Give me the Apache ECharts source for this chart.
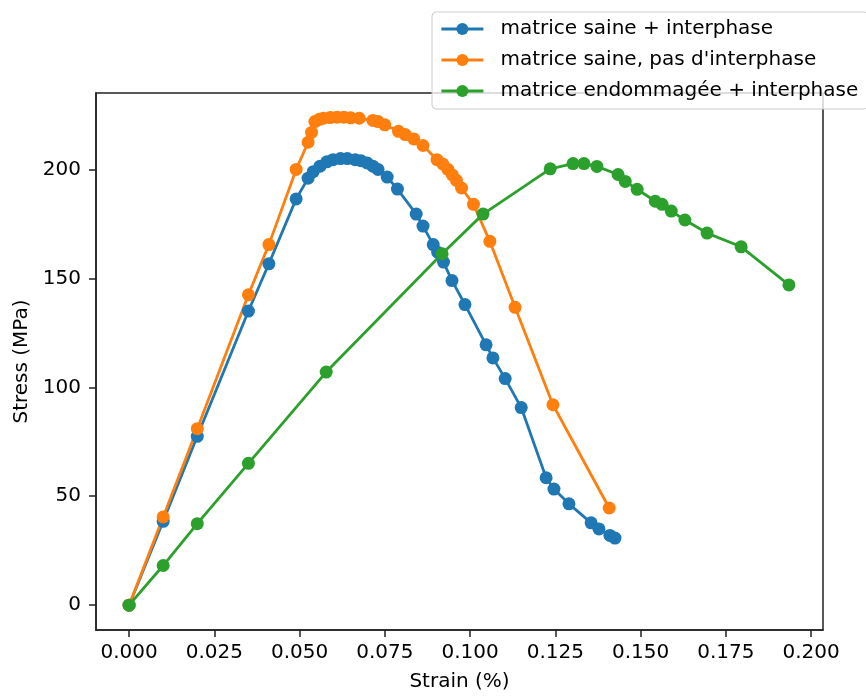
<!DOCTYPE html>
<html>
<head>
<meta charset="utf-8">
<script src="https://cdn.jsdelivr.net/npm/echarts@6/dist/echarts.min.js"></script>
<style>html,body{margin:0;padding:0;background:#fff}#c{width:866px;height:697px}</style>
</head>
<body>
<div id="c"></div>
<script>
const seriesNames = ["matrice saine + interphase", "matrice saine, pas d'interphase", "matrice endommagée + interphase"];
const xTicks = [0, 0.025, 0.05, 0.075, 0.1, 0.125, 0.15, 0.175, 0.2];
const yTicks = [0, 50, 100, 150, 200];

const blueStrain = [0, 0.01, 0.02, 0.035, 0.041, 0.049, 0.0525, 0.054, 0.056, 0.058, 0.0598, 0.062, 0.064, 0.0663, 0.068, 0.0698, 0.0715, 0.073, 0.0757, 0.0787, 0.0842, 0.0862, 0.0892, 0.0905, 0.0922, 0.0947, 0.0985, 0.1047, 0.1067, 0.1103, 0.115, 0.1223, 0.1246, 0.129, 0.1355, 0.1378, 0.141, 0.1425];
const blueStress = [0, 38.5, 77.5, 135, 156.7, 186.5, 196, 199, 201.5, 203.5, 204.5, 205, 205, 204.5, 204, 203, 201.5, 200, 196.5, 191, 179.5, 174, 165.5, 162, 157.5, 149, 138, 119.5, 113.5, 104, 90.7, 58.5, 53.3, 46.5, 37.8, 35, 32, 30.8];

const orangeStrain = [0, 0.01, 0.02, 0.035, 0.041, 0.049, 0.0525, 0.0535, 0.0545, 0.0558, 0.057, 0.059, 0.061, 0.063, 0.065, 0.0675, 0.0715, 0.073, 0.075, 0.079, 0.081, 0.0835, 0.0862, 0.0903, 0.092, 0.0935, 0.0948, 0.096, 0.0975, 0.101, 0.1058, 0.1132, 0.1243, 0.1408];
const orangeStress = [0, 40.5, 81, 142.5, 165.5, 200, 212.5, 217, 222, 223, 223.5, 223.8, 224, 224, 223.7, 223.5, 222.5, 222, 220.5, 217.5, 216, 214, 211, 204.5, 202.5, 200, 197.5, 195, 191.5, 184, 167, 136.7, 92, 44.6];

const greenStrain = [0, 0.01, 0.02, 0.035, 0.0578, 0.0918, 0.1038, 0.1235, 0.1302, 0.1334, 0.1372, 0.1434, 0.1455, 0.149, 0.1543, 0.1563, 0.159, 0.163, 0.1695, 0.1795, 0.1935];
const greenStress = [0, 18.2, 37.4, 65.1, 107, 161.3, 179.5, 200.3, 202.7, 202.7, 201.4, 197.7, 194.5, 190.9, 185.4, 184, 180.9, 176.8, 170.8, 164.5, 147];

const colors = ['#1f77b4', '#ff7f0e', '#2ca02c'];
const FONT = 'DejaVu Sans';
const FS = 20;

function pairs(xs, ys) { return xs.map((x, i) => [x, ys[i]]); }

const chart = echarts.init(document.getElementById('c'), null, {renderer: 'canvas'});
const mk = (name, data, color) => ({
  name, type: 'line', data,
  symbol: 'circle', symbolSize: 13, showSymbol: true,
  lineStyle: {color, width: 2.8}, itemStyle: {color},
  emphasis: {disabled: true}, animation: false
});

chart.setOption({
  animation: false,
  textStyle: {fontFamily: FONT},
  grid: {left: 96, right: 43, top: 93, bottom: 63, show: true, borderColor: '#222', borderWidth: 1.5, backgroundColor: 'transparent'},
  legend: {
    orient: 'vertical', left: 432, top: 12,
    padding: [7, 10, 8, 8], itemGap: 11, itemWidth: 42, itemHeight: 15,
    borderColor: '#cccccc', borderWidth: 1, borderRadius: 4,
    backgroundColor: 'rgba(255,255,255,0.8)',
    lineStyle: {width: 2.8},
    textStyle: {fontFamily: FONT, fontSize: FS, color: '#000', padding: [0, 0, 0, 12]},
    data: seriesNames, z: 10
  },
  xAxis: {
    type: 'value', min: -0.0097, max: 0.2035,
    name: 'Strain (%)', nameLocation: 'middle', nameGap: 42,
    nameTextStyle: {fontFamily: FONT, fontSize: FS, color: '#000'},
    axisLine: {show: true, onZero: false, lineStyle: {color: '#222', width: 1.5}},
    splitLine: {show: false},
    axisTick: {show: true, inside: false, customValues: xTicks, length: 7, lineStyle: {color: '#222', width: 1.5}},
    axisLabel: {customValues: xTicks, margin: 13, fontFamily: FONT, fontSize: FS, color: '#000', formatter: v => v.toFixed(3)}
  },
  yAxis: {
    type: 'value', min: -11.4, max: 235.1,
    name: 'Stress (MPa)', nameLocation: 'middle', nameGap: 64, nameRotate: 90,
    nameTextStyle: {fontFamily: FONT, fontSize: FS, color: '#000'},
    axisLine: {show: true, onZero: false, lineStyle: {color: '#222', width: 1.5}},
    splitLine: {show: false},
    axisTick: {show: true, inside: false, customValues: yTicks, length: 7, lineStyle: {color: '#222', width: 1.5}},
    axisLabel: {customValues: yTicks, margin: 15, fontFamily: FONT, fontSize: FS, color: '#000', formatter: v => String(Math.round(v))}
  },
  series: [
    mk(seriesNames[0], pairs(blueStrain, blueStress), colors[0]),
    mk(seriesNames[1], pairs(orangeStrain, orangeStress), colors[1]),
    mk(seriesNames[2], pairs(greenStrain, greenStress), colors[2])
  ]
});
</script>
</body>
</html>
